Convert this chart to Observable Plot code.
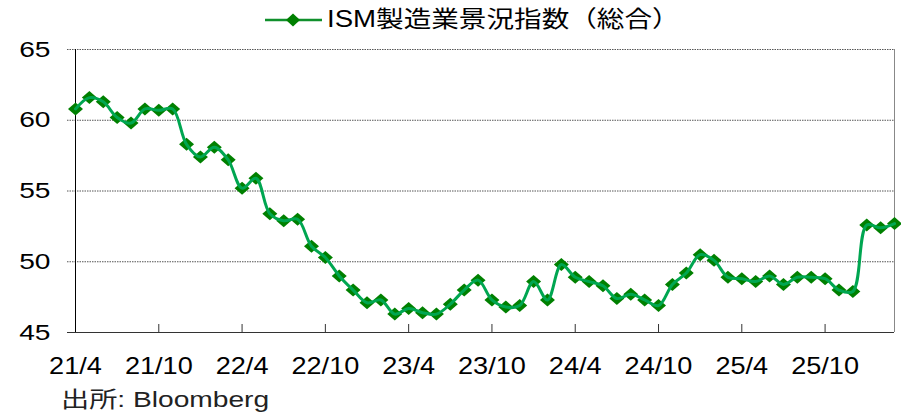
<!DOCTYPE html>
<html><head><meta charset="utf-8">
<script src="https://cdn.jsdelivr.net/npm/d3@7"></script>
<script src="https://cdn.jsdelivr.net/npm/@observablehq/plot@0.6"></script>
<style>
html,body{margin:0;padding:0;background:#fff;}
#wrap{width:901px;height:414px;position:relative;overflow:hidden;font-family:"Liberation Sans",Arial,sans-serif;}
#legend{position:relative;height:38px;}
#legend svg{position:absolute;left:263px;top:12px;}
#legend .txt{position:absolute;left:327px;top:0;line-height:38px;font-size:23px;color:#000;transform:scaleX(1.2);transform-origin:left center;white-space:nowrap;font-family:"Liberation Sans","Noto Sans CJK JP",sans-serif;}
#caption{position:relative;height:31px;line-height:33px;padding-left:61px;font-size:22px;color:#222;font-family:"Liberation Sans","Noto Sans CJK JP",sans-serif;}
#caption span{display:inline-block;transform:scaleX(1.28);transform-origin:left center;}
#chart svg{display:block;}
</style>
</head><body>
<div id="wrap">
  <div id="legend">
    <svg width="62" height="16" viewBox="0 0 62 16">
      <line x1="2" y1="8" x2="59" y2="8" stroke="#10902c" stroke-width="2.5"/>
      <path d="M30,1.5 L37,8 L30,14.5 L23,8 Z" fill="#008000"/>
    </svg>
    <span class="txt">ISM製造業景況指数（総合）</span>
  </div>
  <div id="chart"></div>
  <div id="caption"><span>出所: Bloomberg</span></div>
</div>
<script>
const months = [
  "21/4","21/5","21/6","21/7","21/8","21/9","21/10","21/11","21/12",
  "22/1","22/2","22/3","22/4","22/5","22/6","22/7","22/8","22/9","22/10","22/11","22/12",
  "23/1","23/2","23/3","23/4","23/5","23/6","23/7","23/8","23/9","23/10","23/11","23/12",
  "24/1","24/2","24/3","24/4","24/5","24/6","24/7","24/8","24/9","24/10","24/11","24/12",
  "25/1","25/2","25/3","25/4","25/5","25/6","25/7","25/8","25/9","25/10","25/11","25/12",
  "26/1","26/2","26/3"
];
const values = [
  60.8,61.6,61.3,60.2,59.8,60.8,60.7,60.8,58.3,
  57.4,58.1,57.2,55.2,55.9,53.4,52.9,53.0,51.1,50.3,49.0,48.0,
  47.1,47.3,46.3,46.7,46.4,46.3,47.0,48.0,48.7,47.3,46.8,46.9,
  48.6,47.3,49.8,48.9,48.6,48.3,47.4,47.7,47.3,46.9,48.4,49.2,
  50.5,50.1,48.9,48.8,48.6,49.0,48.4,48.9,48.9,48.8,48.0,47.9,
  52.6,52.4,52.7
];
const xTickLabels = ["21/4","21/10","22/4","22/10","23/4","23/10","24/4","24/10","25/4","25/10"];
const yTicks = [45,50,55,60,65];

const data = months.map((m,i)=>({m, v: values[i]}));

const diamondSym = {
  draw(ctx){
    ctx.moveTo(0,-6.5);
    ctx.lineTo(7.5,0);
    ctx.lineTo(0,6.5);
    ctx.lineTo(-7.5,0);
    ctx.closePath();
  }
};

const H = 345, MT = 11, MB = 51;
const chart = Plot.plot({
  width: 901, height: H,
  marginTop: MT, marginBottom: MB, marginLeft: 75, marginRight: 7,
  style: {fontFamily: '"Liberation Sans", Arial, sans-serif', color: "#000", background: "#fff", overflow: "visible"},
  x: {type: "point", domain: months, padding: 0},
  y: {domain: [45, 65]},
  marks: [
    Plot.ruleY(yTicks.filter(v => v > 45), {y: d => d, stroke: "#555", strokeWidth: 1, strokeDasharray: "1.5,1", insetLeft: -8}),
    Plot.ruleY([45], {y: d => d, stroke: "#333", insetLeft: -8}),
    Plot.ruleX([months[0]], {x: d => d, stroke: "#000"}),
    Plot.ruleX([months[months.length - 1]], {x: d => d, stroke: "#888"}),
    Plot.ruleX(xTickLabels.slice(1), {x: d => d, stroke: "#333", insetTop: (H - MT - MB) - 8}),
    Plot.axisY({ticks: yTicks, tickSize: 0, tickPadding: 25, fontSize: 22, anchor: "left", label: null}),
    Plot.axisX({ticks: xTickLabels, tickSize: 0, tickPadding: 24, fontSize: 24, label: null}),
    Plot.dot(data, {x: "m", y: "v", symbol: diamondSym, fill: "#008000", stroke: "none", r: 6}),
    Plot.line(data, {x: "m", y: "v", stroke: "#00a651", strokeWidth: 3, curve: "catmull-rom"})
  ]
});

function stretch(sel, k){
  chart.querySelectorAll(sel).forEach(t => {
    const tr = t.getAttribute("transform");
    if (tr) t.setAttribute("transform", tr + ` scale(${k},1)`);
  });
}
stretch('g[aria-label="y-axis tick label"] text', 1.28);
stretch('g[aria-label="x-axis tick label"] text', 1.13);

document.getElementById("chart").appendChild(chart);
</script>
</body></html>
